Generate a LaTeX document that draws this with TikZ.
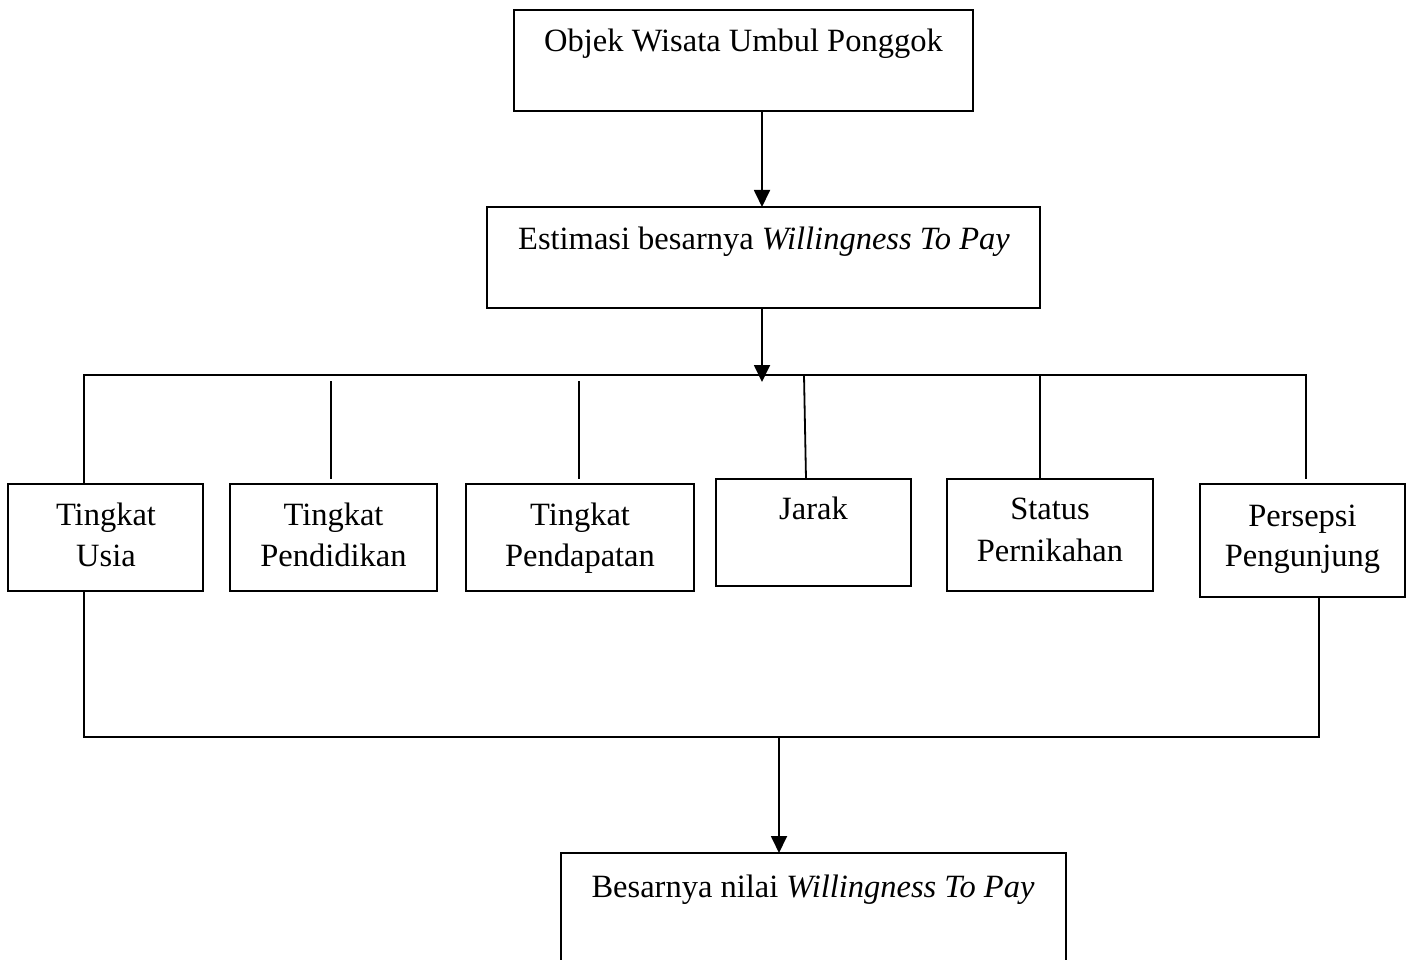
\documentclass[tikz,border=0pt]{standalone}
\usepackage{fontspec}
\setmainfont{Liberation Serif}
\usetikzlibrary{arrows.meta}
\tikzset{
  box/.style={draw, line width=1.8pt, inner sep=0pt, outer sep=0pt},
  txt/.style={anchor=base, inner sep=0pt, font=\fontsize{32.5}{42}\selectfont},
  ln/.style={line width=1.8pt},
  arr/.style={line width=1.8pt, -{Triangle[length=17pt,width=16pt]}}
}
\begin{document}
\begin{tikzpicture}[x=1pt,y=-1pt]
\useasboundingbox (0,0) rectangle (1411,960);
% boxes
\node[box, minimum width=459pt, minimum height=101pt] (b1) at (743.5,60.5) {};
\node[box, minimum width=553pt, minimum height=101pt] (b2) at (763.5,257.5) {};
\node[box, minimum width=195pt, minimum height=107pt] (u) at (105.5,537.5) {};
\node[box, minimum width=207pt, minimum height=107pt] (pd) at (333.5,537.5) {};
\node[box, minimum width=228pt, minimum height=107pt] (pp) at (580,537.5) {};
\node[box, minimum width=195pt, minimum height=107pt] (j) at (813.5,532.5) {};
\node[box, minimum width=206pt, minimum height=112pt] (s) at (1050,535) {};
\node[box, minimum width=205pt, minimum height=113pt] (ps) at (1302.5,540.5) {};
\node[box, minimum width=505pt, minimum height=115pt] (bt) at (813.5,910.5) {};
% texts
\node[txt] (t1) at (743.5,52) {Objek Wisata Umbul Ponggok};
\node[txt] (t2) at (764,249) {Estimasi besarnya \textit{Willingness To Pay}};
\node[txt] (tu1) at (106,525) {Tingkat};
\node[txt] (tu2) at (106,566) {Usia};
\node[txt] (tpd1) at (333.5,525) {Tingkat};
\node[txt] (tpd2) at (333.5,566) {Pendidikan};
\node[txt] (tpp1) at (580,525) {Tingkat};
\node[txt] (tpp2) at (580,566) {Pendapatan};
\node[txt] (tj) at (813.5,519) {Jarak};
\node[txt] (ts1) at (1050,519) {Status};
\node[txt] (ts2) at (1050,561) {Pernikahan};
\node[txt] (tps1) at (1302.5,526) {Persepsi};
\node[txt] (tps2) at (1302.5,566) {Pengunjung};
\node[txt] (tb) at (813,897) {Besarnya nilai \textit{Willingness To Pay}};
% connector points
\coordinate (tL) at (84,375);
\coordinate (tR) at (1306,375);
\coordinate (a2) at (762,382);
\coordinate (pdT) at (331,381);
\coordinate (pdB) at (331,479);
\coordinate (ppT) at (579,381);
\coordinate (ppB) at (579,479);
\coordinate (jT) at (804,375);
\coordinate (jB) at (806,479);
\coordinate (sT) at (1040,375);
\coordinate (psB) at (1306,479);
\coordinate (bL) at (84,737);
\coordinate (bR) at (1319,737);
\coordinate (bM) at (779,737);
% connectors
\draw[arr] (b1.south -| 762,0) -- (b2.north -| 762,0);
\draw[arr] (b2.south -| 762,0) -- (a2);
\draw[ln] (u.north -| tL) -- (tL) -- (tR) -- (psB);
\draw[ln] (pdT) -- (pdB);
\draw[ln] (ppT) -- (ppB);
\draw[ln] (jT) -- (jB);
\draw[ln] (sT) -- (s.north -| sT);
\draw[ln] (u.south -| bL) -- (bL) -- (bR) -- (ps.south -| bR);
\draw[arr] (bM) -- (bt.north -| bM);
\end{tikzpicture}
\end{document}
